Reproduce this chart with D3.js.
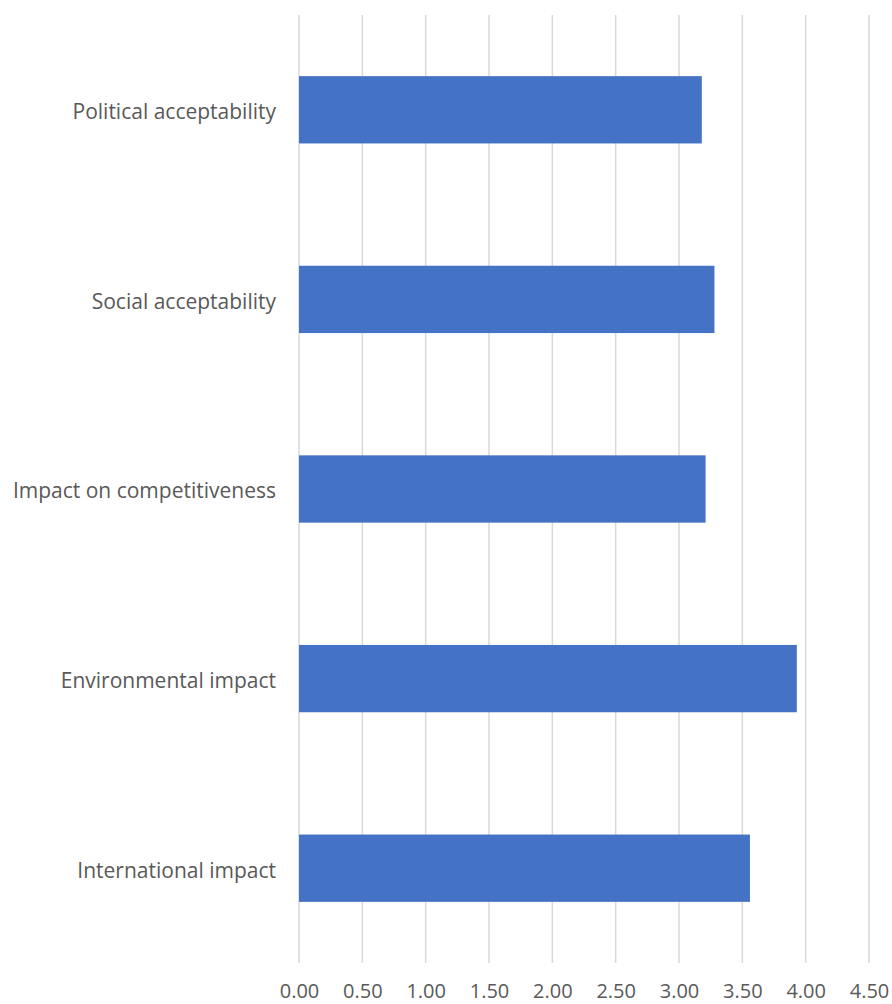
<!DOCTYPE html>
<html>
<head>
<meta charset="utf-8">
<script src="https://cdn.jsdelivr.net/npm/d3@7"></script>
<style>
  html, body { margin: 0; padding: 0; background: #ffffff; }
  svg { display: block; }
  text { font-family: "Open Sans", "Noto Sans", sans-serif; fill: #595959; }
</style>
</head>
<body>
<svg id="chart" width="892" height="1004"></svg>
<script>
const categories = ["Political acceptability", "Social acceptability", "Impact on competitiveness", "Environmental impact", "International impact"];
const values = [3.18, 3.28, 3.21, 3.93, 3.56];
const tickValues = [0, 0.5, 1, 1.5, 2, 2.5, 3, 3.5, 4, 4.5];

const svg = d3.select("#chart");
const plotLeft = 299, plotRight = 869, plotTop = 15, plotBottom = 963;

const x = d3.scaleLinear().domain([0, 4.5]).range([plotLeft, plotRight]);
const y = d3.scaleBand().domain(categories).range([plotTop, plotBottom])
  .paddingInner(0.645).paddingOuter(0.3225);

// gridlines
svg.append("g").selectAll("line").data(tickValues).join("line")
  .attr("x1", d => x(d)).attr("x2", d => x(d))
  .attr("y1", plotTop).attr("y2", plotBottom)
  .attr("stroke", "#d9d9d9").attr("stroke-width", 1.5);

// bars
svg.append("g").selectAll("rect").data(categories).join("rect")
  .attr("x", x(0))
  .attr("y", d => y(d))
  .attr("width", (d, i) => x(values[i]) - x(0))
  .attr("height", y.bandwidth())
  .attr("fill", "#4472c4");

// x axis labels
const xAxis = d3.axisBottom(x).tickValues(tickValues).tickFormat(d3.format(".2f")).tickSize(0).tickPadding(0);
const gx = svg.append("g").attr("transform", `translate(0,${plotBottom})`).call(xAxis);
gx.select(".domain").remove();
gx.selectAll("text").attr("y", 35).attr("dy", null).style("font-size", "20px").attr("fill", "#595959");

// y axis labels
const yAxis = d3.axisLeft(y).tickSize(0).tickPadding(23);
const gy = svg.append("g").attr("transform", `translate(${plotLeft},0)`).call(yAxis);
gy.select(".domain").remove();
gy.selectAll("text").attr("dy", "0.45em").style("font-size", "21px").attr("fill", "#595959");
</script>
</body>
</html>
